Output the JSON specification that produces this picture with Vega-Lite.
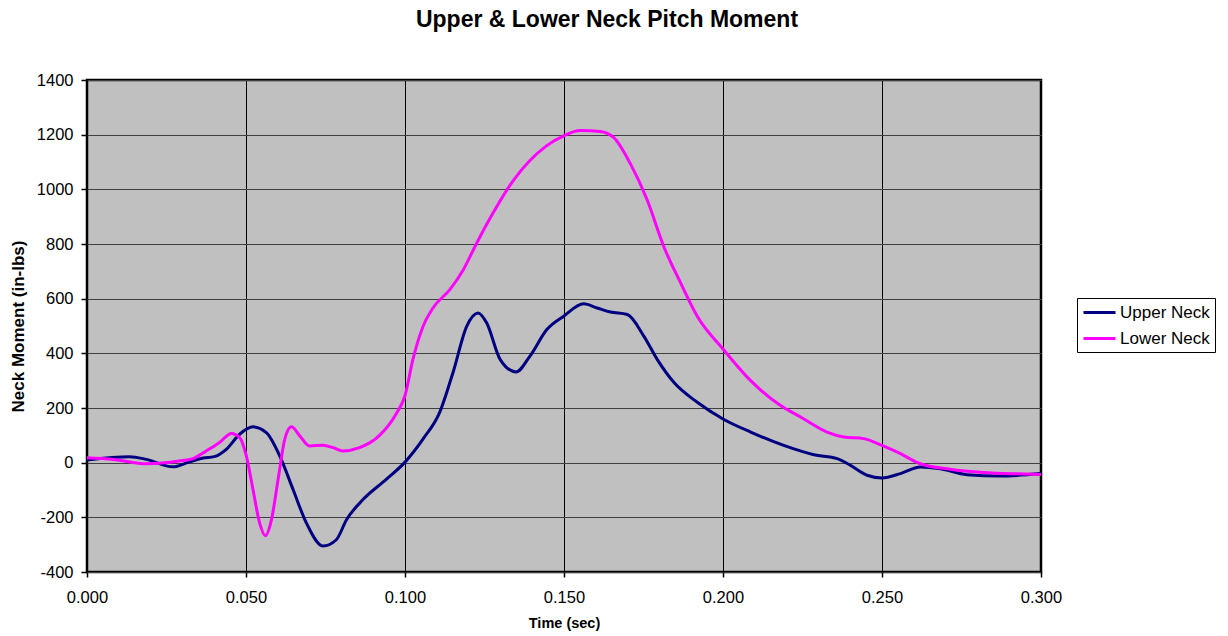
{
  "$schema": "https://vega.github.io/schema/vega-lite/v6.json",
  "autosize": {"type": "none"},
  "width": 954,
  "height": 492,
  "padding": {"left": 87, "top": 80, "right": 187, "bottom": 64},
  "background": "white",
  "title": {
    "text": "Upper & Lower Neck Pitch Moment",
    "font": "Liberation Sans",
    "fontSize": 23,
    "fontWeight": "bold",
    "color": "black",
    "anchor": "middle",
    "dx": 43,
    "offset": 40
  },
  "config": {
    "view": {"fill": "#C0C0C0", "stroke": "black", "strokeWidth": 2.5},
    "axis": {
      "labelFont": "Liberation Sans",
      "titleFont": "Liberation Sans",
      "labelColor": "black",
      "titleColor": "black",
      "domain": false,
      "tickColor": "black",
      "tickWidth": 1.5,
      "gridColor": "black",
      "gridWidth": 1,
      "gridOpacity": 1
    }
  },
  "data": {
    "values": [
      {"t": 0.0, "v": 10, "s": "Upper Neck"},
      {"t": 0.0134, "v": 22, "s": "Upper Neck"},
      {"t": 0.0187, "v": 12, "s": "Upper Neck"},
      {"t": 0.027, "v": -15, "s": "Upper Neck"},
      {"t": 0.032, "v": 2, "s": "Upper Neck"},
      {"t": 0.0365, "v": 17, "s": "Upper Neck"},
      {"t": 0.040, "v": 22, "s": "Upper Neck"},
      {"t": 0.0438, "v": 49, "s": "Upper Neck"},
      {"t": 0.048, "v": 104, "s": "Upper Neck"},
      {"t": 0.0522, "v": 131, "s": "Upper Neck"},
      {"t": 0.0564, "v": 110, "s": "Upper Neck"},
      {"t": 0.0606, "v": 25, "s": "Upper Neck"},
      {"t": 0.0648, "v": -98, "s": "Upper Neck"},
      {"t": 0.069, "v": -221, "s": "Upper Neck"},
      {"t": 0.0742, "v": -305, "s": "Upper Neck"},
      {"t": 0.0784, "v": -282, "s": "Upper Neck"},
      {"t": 0.0816, "v": -209, "s": "Upper Neck"},
      {"t": 0.0868, "v": -135, "s": "Upper Neck"},
      {"t": 0.0941, "v": -61, "s": "Upper Neck"},
      {"t": 0.1, "v": 2, "s": "Upper Neck"},
      {"t": 0.1057, "v": 87, "s": "Upper Neck"},
      {"t": 0.1109, "v": 184, "s": "Upper Neck"},
      {"t": 0.1151, "v": 330, "s": "Upper Neck"},
      {"t": 0.1194, "v": 499, "s": "Upper Neck"},
      {"t": 0.123, "v": 548, "s": "Upper Neck"},
      {"t": 0.1257, "v": 511, "s": "Upper Neck"},
      {"t": 0.1299, "v": 378, "s": "Upper Neck"},
      {"t": 0.1349, "v": 332, "s": "Upper Neck"},
      {"t": 0.1393, "v": 390, "s": "Upper Neck"},
      {"t": 0.1446, "v": 487, "s": "Upper Neck"},
      {"t": 0.1499, "v": 536, "s": "Upper Neck"},
      {"t": 0.1562, "v": 581, "s": "Upper Neck"},
      {"t": 0.1604, "v": 566, "s": "Upper Neck"},
      {"t": 0.1646, "v": 551, "s": "Upper Neck"},
      {"t": 0.1699, "v": 542, "s": "Upper Neck"},
      {"t": 0.1751, "v": 463, "s": "Upper Neck"},
      {"t": 0.1793, "v": 378, "s": "Upper Neck"},
      {"t": 0.1846, "v": 293, "s": "Upper Neck"},
      {"t": 0.1919, "v": 221, "s": "Upper Neck"},
      {"t": 0.2, "v": 160, "s": "Upper Neck"},
      {"t": 0.2087, "v": 112, "s": "Upper Neck"},
      {"t": 0.2191, "v": 63, "s": "Upper Neck"},
      {"t": 0.2286, "v": 29, "s": "Upper Neck"},
      {"t": 0.2359, "v": 15, "s": "Upper Neck"},
      {"t": 0.2401, "v": -10, "s": "Upper Neck"},
      {"t": 0.2453, "v": -46, "s": "Upper Neck"},
      {"t": 0.25, "v": -56, "s": "Upper Neck"},
      {"t": 0.2558, "v": -40, "s": "Upper Neck"},
      {"t": 0.262, "v": -16, "s": "Upper Neck"},
      {"t": 0.2683, "v": -22, "s": "Upper Neck"},
      {"t": 0.2767, "v": -44, "s": "Upper Neck"},
      {"t": 0.2871, "v": -49, "s": "Upper Neck"},
      {"t": 0.3, "v": -40, "s": "Upper Neck"},
      {"t": 0.0, "v": 18, "s": "Lower Neck"},
      {"t": 0.0082, "v": 12, "s": "Lower Neck"},
      {"t": 0.0187, "v": -4, "s": "Lower Neck"},
      {"t": 0.029, "v": 6, "s": "Lower Neck"},
      {"t": 0.0333, "v": 15, "s": "Lower Neck"},
      {"t": 0.0375, "v": 43, "s": "Lower Neck"},
      {"t": 0.0417, "v": 74, "s": "Lower Neck"},
      {"t": 0.0454, "v": 107, "s": "Lower Neck"},
      {"t": 0.048, "v": 92, "s": "Lower Neck"},
      {"t": 0.0501, "v": 25, "s": "Lower Neck"},
      {"t": 0.0522, "v": -98, "s": "Lower Neck"},
      {"t": 0.0543, "v": -221, "s": "Lower Neck"},
      {"t": 0.0561, "v": -267, "s": "Lower Neck"},
      {"t": 0.058, "v": -209, "s": "Lower Neck"},
      {"t": 0.0601, "v": -61, "s": "Lower Neck"},
      {"t": 0.0622, "v": 86, "s": "Lower Neck"},
      {"t": 0.0643, "v": 131, "s": "Lower Neck"},
      {"t": 0.0669, "v": 98, "s": "Lower Neck"},
      {"t": 0.07, "v": 61, "s": "Lower Neck"},
      {"t": 0.0742, "v": 64, "s": "Lower Neck"},
      {"t": 0.0774, "v": 55, "s": "Lower Neck"},
      {"t": 0.0805, "v": 43, "s": "Lower Neck"},
      {"t": 0.0857, "v": 55, "s": "Lower Neck"},
      {"t": 0.092, "v": 100, "s": "Lower Neck"},
      {"t": 0.0973, "v": 180, "s": "Lower Neck"},
      {"t": 0.1, "v": 245, "s": "Lower Neck"},
      {"t": 0.1025, "v": 378, "s": "Lower Neck"},
      {"t": 0.1057, "v": 499, "s": "Lower Neck"},
      {"t": 0.1088, "v": 566, "s": "Lower Neck"},
      {"t": 0.1141, "v": 633, "s": "Lower Neck"},
      {"t": 0.1183, "v": 705, "s": "Lower Neck"},
      {"t": 0.1225, "v": 802, "s": "Lower Neck"},
      {"t": 0.1267, "v": 893, "s": "Lower Neck"},
      {"t": 0.1341, "v": 1033, "s": "Lower Neck"},
      {"t": 0.1446, "v": 1160, "s": "Lower Neck"},
      {"t": 0.1499, "v": 1196, "s": "Lower Neck"},
      {"t": 0.1551, "v": 1215, "s": "Lower Neck"},
      {"t": 0.1614, "v": 1212, "s": "Lower Neck"},
      {"t": 0.1656, "v": 1190, "s": "Lower Neck"},
      {"t": 0.1709, "v": 1093, "s": "Lower Neck"},
      {"t": 0.1762, "v": 960, "s": "Lower Neck"},
      {"t": 0.1814, "v": 790, "s": "Lower Neck"},
      {"t": 0.1867, "v": 657, "s": "Lower Neck"},
      {"t": 0.1919, "v": 536, "s": "Lower Neck"},
      {"t": 0.2, "v": 416, "s": "Lower Neck"},
      {"t": 0.2087, "v": 300, "s": "Lower Neck"},
      {"t": 0.2181, "v": 209, "s": "Lower Neck"},
      {"t": 0.2244, "v": 167, "s": "Lower Neck"},
      {"t": 0.2327, "v": 112, "s": "Lower Neck"},
      {"t": 0.238, "v": 94, "s": "Lower Neck"},
      {"t": 0.2442, "v": 88, "s": "Lower Neck"},
      {"t": 0.25, "v": 63, "s": "Lower Neck"},
      {"t": 0.2558, "v": 33, "s": "Lower Neck"},
      {"t": 0.262, "v": -4, "s": "Lower Neck"},
      {"t": 0.2714, "v": -24, "s": "Lower Neck"},
      {"t": 0.2819, "v": -36, "s": "Lower Neck"},
      {"t": 0.2924, "v": -41, "s": "Lower Neck"},
      {"t": 0.3, "v": -43, "s": "Lower Neck"}
    ]
  },
  "mark": {"type": "line", "interpolate": "monotone", "strokeWidth": 3},
  "encoding": {
    "x": {
      "field": "t",
      "type": "quantitative",
      "scale": {"domain": [0, 0.3], "nice": false, "zero": false},
      "axis": {
        "title": "Time (sec)",
        "values": [0, 0.05, 0.1, 0.15, 0.2, 0.25, 0.3],
        "format": ".3f",
        "labelFlush": false,
        "labelFontSize": 16.5,
        "tickSize": 5,
        "labelPadding": 12,
        "titleFontSize": 14.5,
        "titleFontWeight": "bold",
        "titlePadding": 11
      }
    },
    "y": {
      "field": "v",
      "type": "quantitative",
      "scale": {"domain": [-400, 1400], "nice": false},
      "axis": {
        "title": "Neck Moment (in-lbs)",
        "values": [-400, -200, 0, 200, 400, 600, 800, 1000, 1200, 1400],
        "labelExpr": "'' + datum.value",
        "labelFlush": false,
        "labelFontSize": 16.5,
        "tickSize": 6,
        "labelPadding": 8,
        "titleFontSize": 17,
        "titleFontWeight": "bold",
        "titlePadding": 9,
        "gridColor": "#404040"
      }
    },
    "color": {
      "field": "s",
      "type": "nominal",
      "sort": ["Upper Neck", "Lower Neck"],
      "scale": {"domain": ["Upper Neck", "Lower Neck"], "range": ["#000080", "#FF00FF"]},
      "legend": {
        "title": null,
        "orient": "none",
        "legendX": 990,
        "legendY": 218,
        "fillColor": "white",
        "strokeColor": "black",
        "padding": 5,
        "symbolType": "M-2,0H2",
        "symbolStrokeWidth": 3,
        "symbolSize": 256,
        "symbolOffset": 8,
        "labelFont": "Liberation Sans",
        "labelFontSize": 17,
        "labelColor": "black",
        "labelOffset": 11,
        "rowPadding": 8
      }
    }
  }
}
